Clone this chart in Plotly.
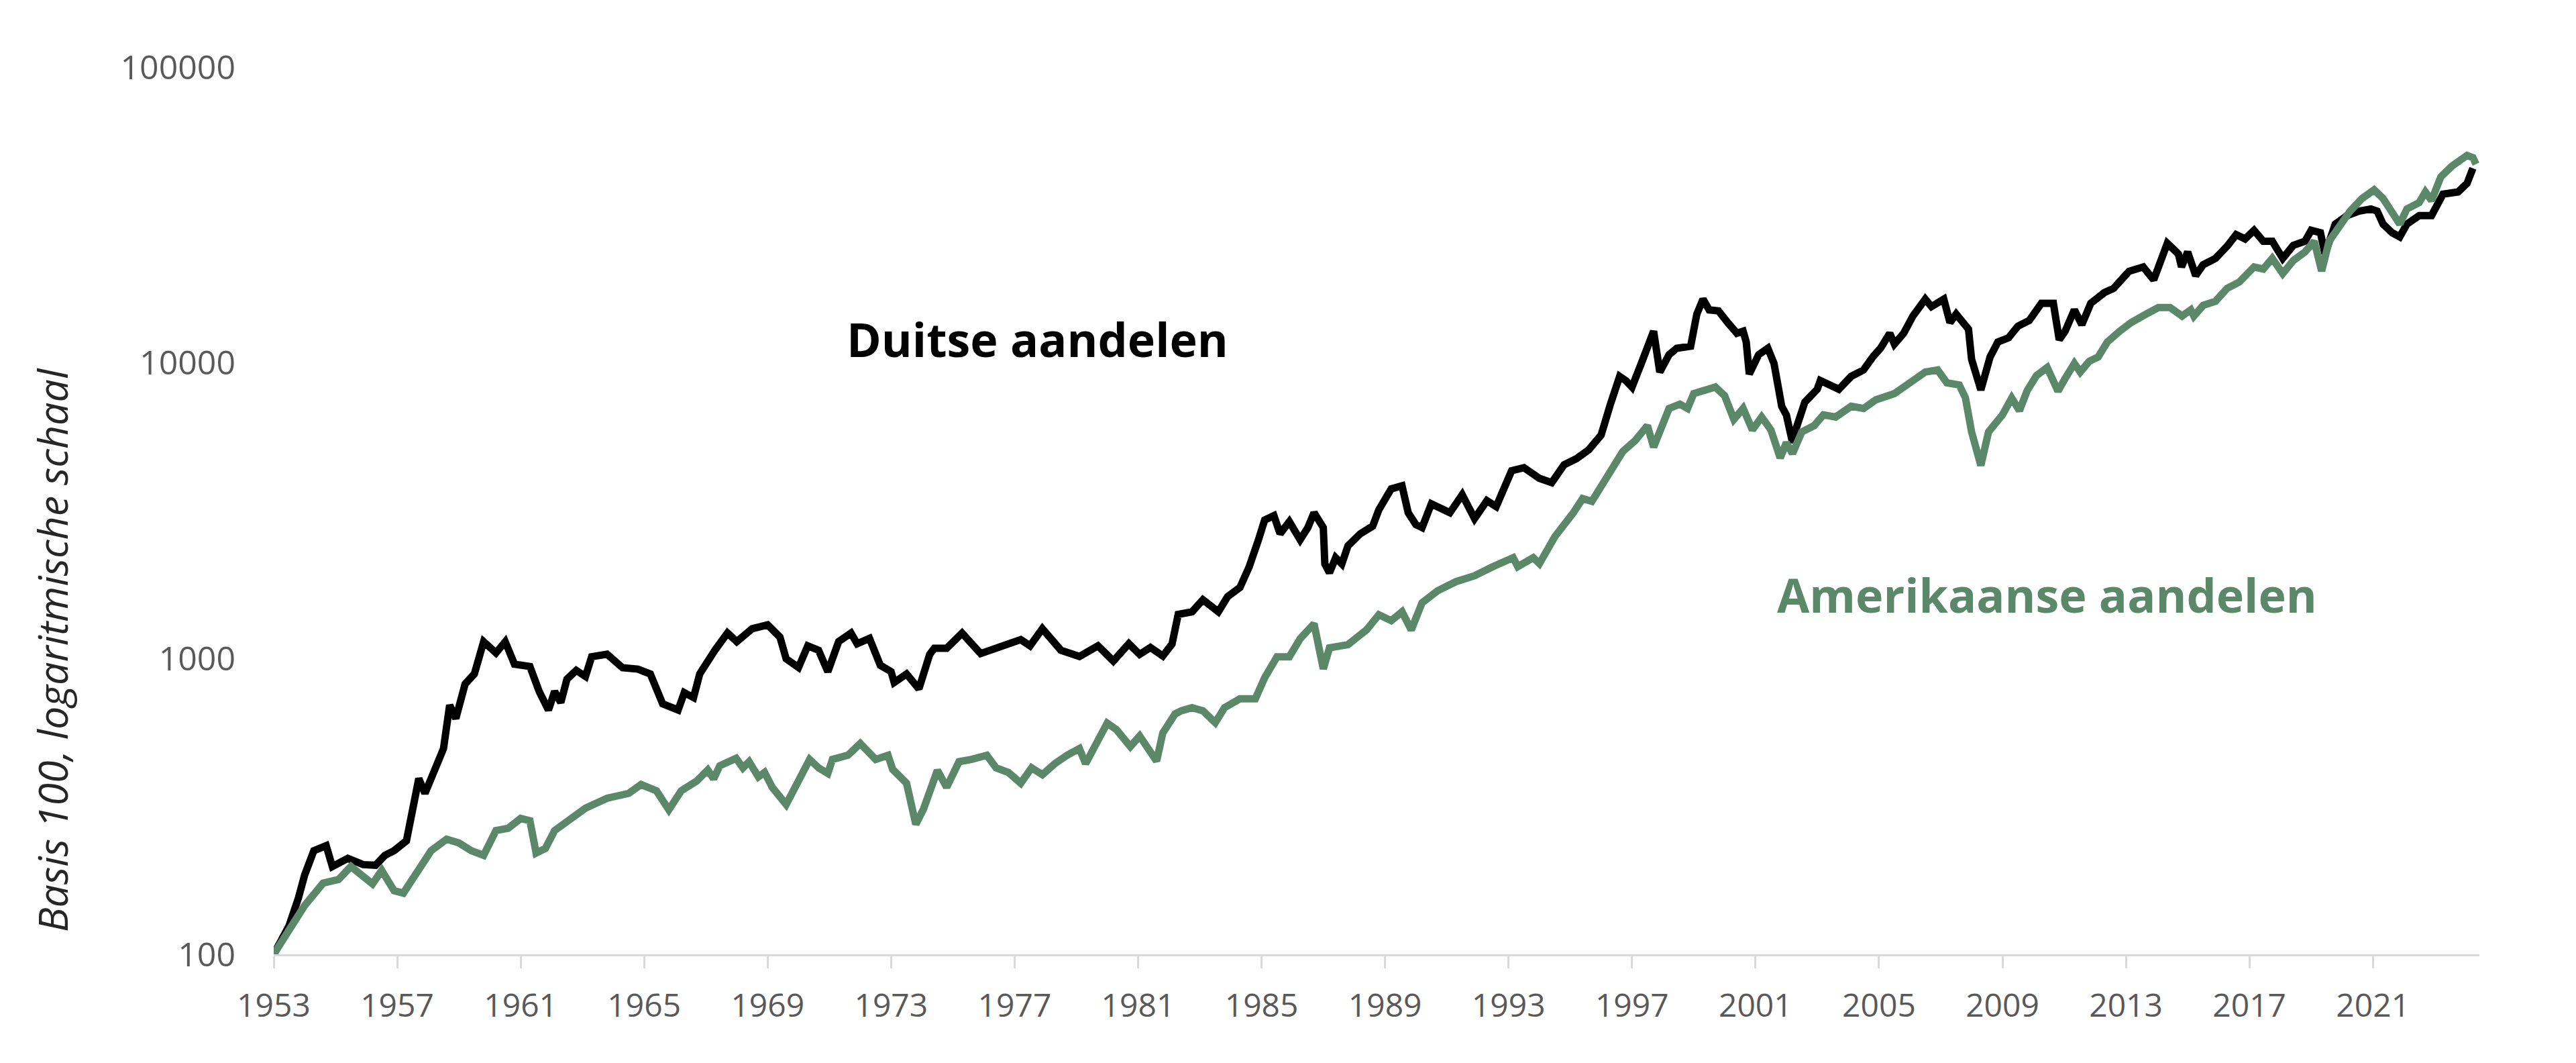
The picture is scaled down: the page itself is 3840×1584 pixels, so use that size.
import plotly.graph_objects as go

# ---- data ----
de_years = [1953.0, 1953.5, 1953.8, 1954.0, 1954.3, 1954.7, 1954.9, 1955.4, 1955.9, 1956.3, 1956.6, 1956.9,
            1957.3, 1957.5, 1957.7, 1957.9, 1958.2, 1958.5, 1958.7, 1958.9, 1959.2, 1959.5, 1959.8, 1960.2,
            1960.5, 1960.8, 1961.3, 1961.6, 1961.9, 1962.1, 1962.3, 1962.5, 1962.8, 1963.1, 1963.3, 1963.8,
            1964.3, 1964.8, 1965.2, 1965.6, 1966.1, 1966.3, 1966.6, 1966.8, 1967.3, 1967.7, 1968.0, 1968.5,
            1969.0, 1969.4, 1969.6, 1970.0, 1970.3, 1970.65, 1970.95, 1971.3, 1971.7, 1971.9, 1972.3, 1972.65,
            1973.0, 1973.1, 1973.5, 1973.9, 1974.25, 1974.4, 1974.8, 1975.3, 1975.9, 1976.4, 1977.2, 1977.5,
            1977.9, 1978.5, 1979.1, 1979.7, 1980.2, 1980.7, 1981.05, 1981.4, 1981.8, 1982.1, 1982.3, 1982.75,
            1983.1, 1983.6, 1983.9, 1984.3, 1984.6, 1984.9, 1985.1, 1985.4, 1985.6, 1985.9, 1986.25, 1986.5,
            1986.7, 1987.0, 1987.05, 1987.2, 1987.4, 1987.6, 1987.8, 1988.2, 1988.6, 1988.8, 1989.2, 1989.55,
            1989.75, 1990.0, 1990.2, 1990.5, 1990.9, 1991.1, 1991.5, 1991.9, 1992.3, 1992.6, 1993.1, 1993.5,
            1994.0, 1994.4, 1994.8, 1995.2, 1995.6, 1996.0, 1996.3, 1996.6, 1996.8, 1997.0, 1997.3, 1997.7,
            1997.9, 1998.2, 1998.45, 1998.9, 1999.1, 1999.3, 1999.5, 1999.8, 2000.1, 2000.4, 2000.6, 2000.7,
            2000.8, 2001.1, 2001.4, 2001.6, 2001.85, 2002.0, 2002.2, 2002.3, 2002.6, 2003.0, 2003.1, 2003.7,
            2004.1, 2004.5, 2004.8, 2005.05, 2005.35, 2005.5, 2005.8, 2006.1, 2006.5, 2006.7, 2007.1, 2007.3,
            2007.5, 2007.9, 2008.0, 2008.3, 2008.6, 2008.85, 2009.2, 2009.5, 2009.87, 2010.26, 2010.65, 2010.84,
            2011.03, 2011.33, 2011.57, 2011.86, 2012.3, 2012.6, 2013.1, 2013.56, 2013.9, 2014.34, 2014.7, 2014.8,
            2015.0, 2015.26, 2015.5, 2015.9, 2016.3, 2016.57, 2016.86, 2017.15, 2017.45, 2017.74, 2018.08, 2018.42,
            2018.8, 2019.0, 2019.3, 2019.45, 2019.78, 2020.17, 2020.55, 2020.94, 2021.14, 2021.33, 2021.62, 2021.87,
            2022.1, 2022.5, 2022.9, 2023.27, 2023.76, 2024.05, 2024.24]
de_values = [100, 125, 155, 185, 224, 233, 198, 211, 201, 200, 216, 224,
             242, 305, 393, 350, 417, 496, 696, 627, 820, 887, 1140, 1045,
             1140, 957, 940, 774, 670, 774, 710, 852, 912, 870, 1014, 1035,
             931, 921, 887, 703, 670, 767, 738, 887, 1070, 1220, 1141, 1262,
             1300, 1181, 998, 933, 1104, 1067, 903, 1141, 1219, 1122, 1170, 949,
             903, 830, 887, 790, 1033, 1084, 1084, 1219, 1040, 1084, 1159, 1104,
             1262, 1067, 1016, 1104, 981, 1122, 1033, 1090, 1020, 1120, 1410, 1439,
             1581, 1439, 1619, 1738, 2044, 2522, 2939, 3043, 2643, 2904, 2522, 2773,
             3113, 2773, 2090, 1950, 2193, 2090, 2406, 2643, 2805, 3186, 3750, 3838,
             3113, 2838, 2773, 3336, 3186, 3113, 3581, 2974, 3420, 3266, 4315, 4418,
             4070, 3935, 4520, 4743, 5085, 5700, 7240, 8995, 8704, 8277, 9950, 12790,
             9310, 10650, 11200, 11380, 14620, 16420, 15100, 14990, 13680, 12590, 12790, 11760,
             9160, 10650, 11200, 9950, 7125, 6666, 5370, 5930, 7370, 8140, 8710, 8140,
             9000, 9460, 10470, 11200, 12590, 11570, 12590, 14390, 16420, 15490, 16420, 13680,
             14620, 13000, 10280, 8100, 10470, 11760, 12160, 13300, 13910, 15890, 15890, 11970,
             12790, 15110, 13460, 15890, 17270, 17850, 20400, 21100, 19090, 25360, 23340, 21100,
             23710, 19720, 21460, 22550, 24950, 27130, 26240, 28060, 25770, 25770, 22550, 24950,
             25770, 28060, 27560, 23340, 29440, 31480, 32570, 33130, 32570, 29440, 27560, 26660,
             29440, 31480, 31480, 37190, 37830, 40460, 45480]

us_years = [1953.0, 1953.5, 1954.0, 1954.6, 1955.1, 1955.5, 1955.8, 1956.2, 1956.5, 1956.9, 1957.2, 1957.6,
            1958.1, 1958.6, 1959.0, 1959.4, 1959.8, 1960.2, 1960.6, 1961.0, 1961.3, 1961.5, 1961.8, 1962.1,
            1962.5, 1963.1, 1963.8, 1964.5, 1964.9, 1965.4, 1965.8, 1966.2, 1966.7, 1967.06, 1967.25, 1967.45,
            1967.98, 1968.2, 1968.4, 1968.7, 1968.9, 1969.15, 1969.6, 1969.9, 1970.36, 1970.65, 1970.95, 1971.1,
            1971.6, 1972.0, 1972.5, 1972.9, 1973.05, 1973.5, 1973.8, 1974.05, 1974.25, 1974.5, 1974.8, 1975.2,
            1975.6, 1976.1, 1976.4, 1976.8, 1977.2, 1977.55, 1977.9, 1978.3, 1978.7, 1979.1, 1979.3, 1979.7,
            1980.0, 1980.3, 1980.75, 1981.05, 1981.3, 1981.6, 1981.8, 1982.2, 1982.4, 1982.75, 1983.1, 1983.5,
            1983.8, 1984.3, 1984.8, 1985.1, 1985.5, 1985.9, 1986.25, 1986.7, 1987.0, 1987.2, 1987.8, 1988.4,
            1988.8, 1989.2, 1989.55, 1989.85, 1990.2, 1990.7, 1991.3, 1991.9, 1992.5, 1993.15, 1993.3, 1993.8,
            1994.0, 1994.5, 1995.1, 1995.4, 1995.7, 1996.0, 1996.3, 1996.7, 1997.1, 1997.5, 1997.7, 1998.0,
            1998.2, 1998.55, 1998.8, 1999.0, 1999.3, 1999.7, 2000.0, 2000.3, 2000.6, 2000.9, 2001.2, 2001.5,
            2001.8, 2002.0, 2002.2, 2002.5, 2002.9, 2003.2, 2003.6, 2004.1, 2004.5, 2004.9, 2005.5, 2005.8,
            2006.2, 2006.5, 2006.9, 2007.2, 2007.6, 2007.8, 2008.0, 2008.3, 2008.55, 2009.0, 2009.3, 2009.55,
            2009.8, 2010.1, 2010.45, 2010.8, 2011.03, 2011.33, 2011.52, 2011.81, 2012.1, 2012.4, 2012.8, 2013.17,
            2013.66, 2014.05, 2014.43, 2014.82, 2015.1, 2015.2, 2015.5, 2015.9, 2016.28, 2016.67, 2017.15, 2017.45,
            2017.74, 2018.08, 2018.42, 2018.8, 2019.1, 2019.34, 2019.58, 2019.87, 2020.26, 2020.65, 2021.04, 2021.33,
            2021.62, 2021.87, 2022.1, 2022.5, 2022.7, 2022.9, 2023.2, 2023.56, 2024.05, 2024.24, 2024.34]
us_values = [100, 121, 146, 174, 179, 198, 188, 173, 192, 164, 161, 185,
             224, 245, 238, 224, 216, 262, 267, 288, 283, 220, 228, 262,
             283, 312, 337, 350, 375, 357, 308, 357, 385, 420, 392, 434,
             460, 427, 448, 398, 412, 367, 321, 367, 456, 427, 409, 456,
             471, 516, 456, 471, 422, 379, 275, 310, 360, 419, 367, 448,
             456, 471, 427, 412, 379, 427, 405, 441, 471, 496, 441, 538,
             605, 575, 504, 547, 496, 450, 560, 650, 666, 682, 666, 607,
             682, 731, 731, 861, 1014, 1014, 1167, 1312, 923, 1087, 1114, 1250,
             1406, 1343, 1439, 1250, 1545, 1695, 1820, 1906, 2046, 2193, 2046, 2193,
             2094, 2583, 3113, 3475, 3400, 3850, 4318, 5015, 5455, 6132, 5190, 6337,
             7010, 7250, 7010, 7870, 8015, 8280, 7740, 6440, 7010, 5930, 6560, 5930,
             4770, 5370, 4934, 5838, 6132, 6670, 6560, 7130, 7010, 7500, 7870, 8280,
             9000, 9310, 9460, 8560, 8420, 7620, 5840, 4500, 5840, 6670, 7600, 6890,
             8050, 9050, 9640, 8020, 8850, 9950, 9310, 10120, 10470, 11770, 12800, 13680,
             14630, 15380, 15380, 14390, 15110, 14390, 15640, 16150, 17860, 18760, 21100, 20760,
             22550, 20040, 22180, 23720, 25770, 20420, 25770, 28500, 32570, 35950, 38450, 35950,
             32570, 29450, 33130, 34840, 37840, 35400, 42540, 46270, 50270, 49400, 46980]

x_tick_years = list(range(1953, 2022, 4))
y_tick_values = [100, 1000, 10000, 100000]
y_tick_labels = ["100", "1000", "10000", "100000"]

series_names = ["Duitse aandelen", "Amerikaanse aandelen"]
y_title = "Basis 100, logaritmische schaal"

BLACK = "#000000"
GREEN = "#5B8868"
FONT = "Open Sans"

fig = go.Figure()
fig.add_trace(go.Scatter(x=de_years, y=de_values, mode="lines", name=series_names[0],
                         line=dict(color=BLACK, width=11), showlegend=False))
fig.add_trace(go.Scatter(x=us_years, y=us_values, mode="lines", name=series_names[1],
                         line=dict(color=GREEN, width=11), showlegend=False))

fig.update_layout(
    width=3840, height=1584,
    paper_bgcolor="white", plot_bgcolor="white",
    margin=dict(l=400, r=152, t=92, b=170),
    font=dict(family=FONT, color="#595959"),
    xaxis=dict(
        range=[1953, 2024.45], tickvals=x_tick_years, ticktext=[str(v) for v in x_tick_years],
        showgrid=False, zeroline=False, showline=True, linecolor="#D9D9D9", linewidth=3,
        ticks="outside", ticklen=18, tickwidth=3, tickcolor="#D9D9D9",
        tickfont=dict(family=FONT, size=48, color="#595959"), ticklabelstandoff=14,
    ),
    yaxis=dict(
        type="log", range=[2, 5], tickvals=y_tick_values, ticktext=y_tick_labels,
        showgrid=False, zeroline=False, showline=False, ticks="",
        tickfont=dict(family=FONT, size=50, color="#595959"), ticklabelstandoff=56,
    ),
    annotations=[
        dict(text=series_names[0], x=1977.75, y=4.082, xref="x", yref="y",
             showarrow=False, xanchor="center", yanchor="middle",
             font=dict(family=FONT, size=70, color=BLACK, weight=700)),
        dict(text=series_names[1], x=2010.45, y=3.216, xref="x", yref="y",
             showarrow=False, xanchor="center", yanchor="middle",
             font=dict(family=FONT, size=70, color=GREEN, weight=700)),
        dict(text=y_title, x=-0.1005, y=0.343, xref="paper", yref="paper",
             showarrow=False, xanchor="center", yanchor="middle", textangle=-90,
             font=dict(family=FONT, size=61, color="#262626", style="italic")),
    ],
)

fig.write_html("out.html")
